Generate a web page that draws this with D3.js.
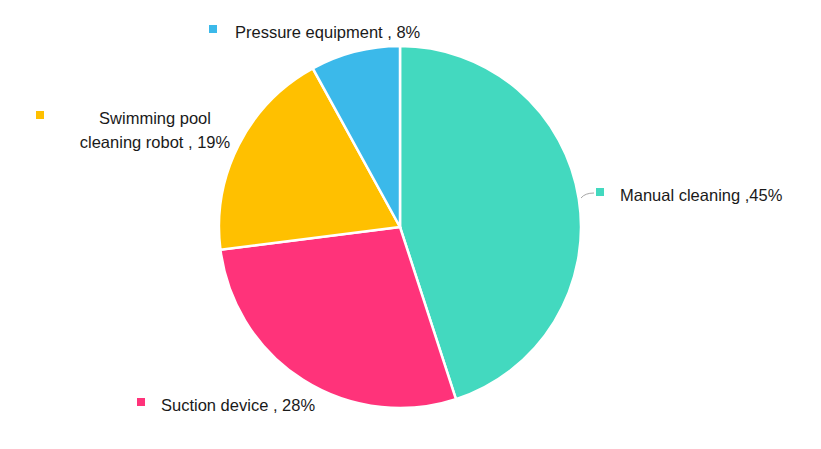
<!DOCTYPE html>
<html><head><meta charset="utf-8">
<script src="https://cdn.jsdelivr.net/npm/d3@7.9.0/dist/d3.min.js"></script>
<style>body{margin:0;background:#fff}</style>
</head><body>
<svg id="chart" width="821" height="449"></svg>
<script>
// Chart data
const categories = ['Manual cleaning', 'Suction device', 'Swimming pool cleaning robot', 'Pressure equipment'];
const shares = [45, 28, 19, 8];
const labelTexts = [['Manual cleaning ,45%'], ['Suction device , 28%'], ['Swimming pool', 'cleaning robot , 19%'], ['Pressure equipment , 8%']];
const colors = ['#43D9BF', '#FF337A', '#FFC000', '#3BB9EA'];

const svg = d3.select('#chart');
const cx = 400, cy = 227, r = 181;

const pie = d3.pie().sort(null).value(d => d.value);
const arc = d3.arc().innerRadius(0).outerRadius(r);
const data = pie(categories.map((c, i) => ({ name: c, value: shares[i] })));

const g = svg.append('g').attr('transform', `translate(${cx},${cy})`);
g.selectAll('path')
  .data(data)
  .join('path')
  .attr('d', arc)
  .attr('fill', (d, i) => colors[i])
  .attr('stroke', '#fff')
  .attr('stroke-width', 2.5);

// Label placement (marker x, text x, baseline y, anchor)
const labelPos = [
  { mx: 596, tx: 620, ty: 201, anchor: 'start' },
  { mx: 137, tx: 161, ty: 411, anchor: 'start' },
  { mx: 36, tx: 155, ty: 124, anchor: 'middle' },
  { mx: 209, tx: 235, ty: 38, anchor: 'start' }
];

// Leader line for manual cleaning
svg.append('path')
  .attr('d', 'M581,198 Q585,193 594,193')
  .attr('fill', 'none').attr('stroke', '#a6a6a6').attr('stroke-width', 1);

labelPos.forEach((p, i) => {
  svg.append('rect')
    .attr('x', p.mx).attr('y', p.ty - 13)
    .attr('width', 8).attr('height', 8)
    .attr('fill', colors[i]);
  const t = svg.append('text')
    .attr('x', p.tx).attr('y', p.ty)
    .attr('text-anchor', p.anchor)
    .attr('font-family', 'Liberation Sans, Arial, sans-serif')
    .attr('font-size', 16.5)
    .attr('fill', '#1a1a1a');
  labelTexts[i].forEach((line, j) => {
    t.append('tspan').attr('x', p.tx).attr('dy', j === 0 ? 0 : 24).text(line);
  });
});
</script>
</body></html>
